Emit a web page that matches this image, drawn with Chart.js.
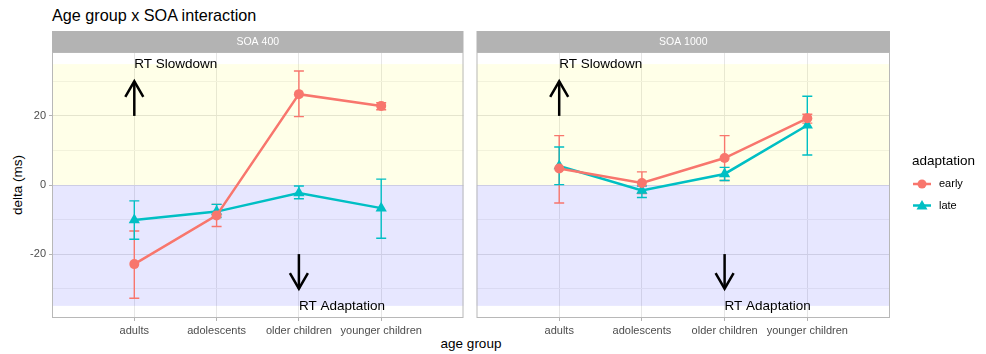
<!DOCTYPE html>
<html><head><meta charset="utf-8">
<script src="https://cdn.jsdelivr.net/npm/chart.js@4"></script>
<style>
body{margin:0;background:#fff;width:986px;height:354px;position:relative;overflow:hidden;font-family:"Liberation Sans",Arial,sans-serif;}
canvas{position:absolute;top:0;}
.t{position:absolute;white-space:nowrap;color:#000;line-height:1;}
</style></head><body>
<div class="t" style="left:52px;top:7px;font-size:16.2px;">Age group x SOA interaction</div>
<div class="t" style="left:471px;top:337px;font-size:13.5px;transform:translateX(-50%)">age group</div>
<div class="t" style="left:18px;top:185px;font-size:13.5px;transform:translate(-50%,-50%) rotate(-90deg)">delta (ms)</div>
<canvas id="c1" width="470" height="354" style="left:0;width:470px;height:354px"></canvas>
<canvas id="c2" width="516" height="354" style="left:470px;width:516px;height:354px"></canvas>
<script>
// ---- data ----
const ageGroups = ['adults', 'adolescents', 'older children', 'younger children'];
const panelNames = ['SOA 400', 'SOA 1000'];
const seriesNames = ['early', 'late'];
const legendTitle = 'adaptation';

const soa400Early   = [-22.9, -8.8, 26.3, 22.9];
const soa400EarlyLo = [-32.8, -12.0, 19.8, 21.8];
const soa400EarlyHi = [-13.3, -5.6, 33.0, 23.8];
const soa400Late    = [-10.1, -7.7, -2.3, -6.7];
const soa400LateLo  = [-15.7, -9.4, -4.0, -15.4];
const soa400LateHi  = [-4.6, -5.6, -0.3, 1.7];

const soa1000Early   = [4.8, 0.6, 7.8, 19.3];
const soa1000EarlyLo = [-5.2, -2.5, 1.3, 17.9];
const soa1000EarlyHi = [14.3, 3.8, 14.3, 20.5];
const soa1000Late    = [5.5, -1.6, 3.2, 17.3];
const soa1000LateLo  = [0.1, -3.6, 1.3, 8.7];
const soa1000LateHi  = [11.0, -0.3, 5.1, 25.7];

const yMajor = [-20, 0, 20];
const yMinor = [-30, -10, 10, 30];
const bandTop = 35, bandBottom = -35;
const slowdownLabel = 'RT Slowdown';
const adaptationLabel = 'RT Adaptation';
// annotation anchors in data units: [x category index (1-based), y]
const slowdownText = [1, 35], slowdownArrow = [1, 20, 30];
const adaptText = [3, -35], adaptArrow = [3, -20, -30];

const COL_EARLY = '#F8766D', COL_LATE = '#00BFC4';
const FONT = '"Liberation Sans", Arial, sans-serif';

function drawArrow(ctx, x, y0, y1) {
  ctx.save();
  ctx.strokeStyle = '#000'; ctx.lineWidth = 2.5; ctx.lineCap = 'butt';
  ctx.beginPath(); ctx.moveTo(x, y0); ctx.lineTo(x, y1); ctx.stroke();
  const dir = y1 < y0 ? 1 : -1;
  ctx.beginPath();
  ctx.moveTo(x - 9, y1 + dir * 15.5); ctx.lineTo(x, y1); ctx.lineTo(x + 9, y1 + dir * 15.5);
  ctx.stroke();
  ctx.restore();
}

const panelPlugin = {
  id: 'panelPlugin',
  beforeDatasetsDraw(chart) {
    const {ctx, chartArea: a, scales: {x, y}} = chart;
    ctx.save();
    ctx.fillStyle = 'rgba(255,255,0,0.09)';
    ctx.fillRect(a.left, y.getPixelForValue(bandTop), a.right - a.left, y.getPixelForValue(0) - y.getPixelForValue(bandTop));
    ctx.fillStyle = 'rgba(0,0,255,0.095)';
    ctx.fillRect(a.left, y.getPixelForValue(0), a.right - a.left, y.getPixelForValue(bandBottom) - y.getPixelForValue(0));
    // error bars
    chart.data.datasets.forEach(ds => {
      ctx.strokeStyle = ds.borderColor; ctx.lineWidth = 1.4;
      ds.errLo.forEach((lo, i) => {
        const px = x.getPixelForValue(i + 1);
        const pl = y.getPixelForValue(lo), ph = y.getPixelForValue(ds.errHi[i]);
        ctx.beginPath();
        ctx.moveTo(px, pl); ctx.lineTo(px, ph);
        ctx.moveTo(px - 5, pl); ctx.lineTo(px + 5, pl);
        ctx.moveTo(px - 5, ph); ctx.lineTo(px + 5, ph);
        ctx.stroke();
      });
    });
    ctx.restore();
  },
  afterDraw(chart) {
    const {ctx, chartArea: a, scales: {x, y}} = chart;
    const o = chart.options.plugins.panelPlugin;
    ctx.save();
    // annotations
    drawArrow(ctx, x.getPixelForValue(slowdownArrow[0]), y.getPixelForValue(slowdownArrow[1]), y.getPixelForValue(slowdownArrow[2]));
    drawArrow(ctx, x.getPixelForValue(adaptArrow[0]), y.getPixelForValue(adaptArrow[1]), y.getPixelForValue(adaptArrow[2]));
    ctx.fillStyle = '#000'; ctx.font = '13.5px ' + FONT; ctx.textBaseline = 'middle'; ctx.textAlign = 'left';
    ctx.fillText(slowdownLabel, x.getPixelForValue(slowdownText[0]), y.getPixelForValue(slowdownText[1]));
    ctx.fillText(adaptationLabel, x.getPixelForValue(adaptText[0]), y.getPixelForValue(adaptText[1]));
    // border
    ctx.strokeStyle = '#B8B8B8'; ctx.lineWidth = 1;
    ctx.strokeRect(a.left + 0.5, a.top + 0.5, a.right - a.left - 1, a.bottom - a.top - 1);
    // strip
    ctx.fillStyle = '#B3B3B3';
    ctx.fillRect(a.left, 31, a.right - a.left, a.top - 31);
    ctx.fillStyle = '#fff'; ctx.font = '10.5px ' + FONT; ctx.textAlign = 'center';
    ctx.fillText(o.name, (a.left + a.right) / 2, (31 + a.top) / 2 + 0.5);
    // legend
    if (o.legend) {
      const lx = a.right + 22;
      ctx.fillStyle = '#000'; ctx.textAlign = 'left'; ctx.font = '13.5px ' + FONT;
      ctx.fillText(legendTitle, lx, 161);
      chart.data.datasets.forEach((ds, i) => {
        const yy = 184 + i * 21.5, cx = lx + 10;
        ctx.strokeStyle = ds.borderColor; ctx.fillStyle = ds.borderColor; ctx.lineWidth = 2.5;
        ctx.beginPath(); ctx.moveTo(lx + 1, yy); ctx.lineTo(lx + 19, yy); ctx.stroke();
        ctx.beginPath();
        if (ds.pointStyle === 'circle') ctx.arc(cx, yy, 4.5, 0, Math.PI * 2);
        else { ctx.moveTo(cx, yy - 5.5); ctx.lineTo(cx + 5.5, yy + 4); ctx.lineTo(cx - 5.5, yy + 4); ctx.closePath(); }
        ctx.fill();
        ctx.fillStyle = '#000'; ctx.font = '11px ' + FONT;
        ctx.fillText(ds.label, lx + 27, yy);
      });
    }
    ctx.restore();
  }
};

function makePanel(id, name, early, eLo, eHi, late, lLo, lHi, first, legend) {
  const mk = (vals) => vals.map((v, i) => ({x: i + 1, y: v}));
  new Chart(document.getElementById(id), {
    type: 'line',
    data: {
      datasets: [
        {label: seriesNames[0], data: mk(early), errLo: eLo, errHi: eHi, borderColor: COL_EARLY, backgroundColor: COL_EARLY,
         borderWidth: 2.5, pointStyle: 'circle', pointRadius: 5, pointBorderWidth: 0, tension: 0},
        {label: seriesNames[1], data: mk(late), errLo: lLo, errHi: lHi, borderColor: COL_LATE, backgroundColor: COL_LATE,
         borderWidth: 2.5, pointStyle: 'triangle', pointRadius: 6.5, pointBorderWidth: 0, tension: 0}
      ]
    },
    options: {
      responsive: false, animation: false, devicePixelRatio: 1,
      layout: {padding: {top: 52, left: 0, right: first ? 2 : 96, bottom: 0}},
      plugins: {legend: {display: false}, tooltip: {enabled: false}, panelPlugin: {name, legend}},
      scales: {
        x: {
          type: 'linear', min: 0, max: 5,
          afterBuildTicks: s => { s.ticks = ageGroups.map((g, i) => ({value: i + 1})); },
          afterFit: s => { s.height = 36; },
          border: {display: false},
          grid: {color: '#E6E6E6', lineWidth: 1, tickLength: 3, tickColor: '#B3B3B3'},
          ticks: {autoSkip: false, maxRotation: 0, padding: 3.5, color: '#4D4D4D', font: {size: 11, family: FONT},
                  callback: v => ageGroups[v - 1]}
        },
        y: {
          type: 'linear', min: -38.5, max: 38.5,
          afterBuildTicks: s => { s.ticks = yMinor.concat(yMajor).sort((p, q) => p - q).map(v => ({value: v})); },
          afterFit: s => { s.width = first ? 52 : 5; },
          border: {display: false},
          grid: {
            color: c => yMajor.includes(c.tick.value) ? '#E3E3E3' : '#F1F1F1',
            lineWidth: 1, drawTicks: first, tickLength: 3,
            tickColor: c => yMajor.includes(c.tick.value) ? '#B3B3B3' : 'rgba(0,0,0,0)'
          },
          ticks: {display: first, padding: 3, color: '#4D4D4D', font: {size: 11, family: FONT},
                  callback: v => yMajor.includes(v) ? String(v) : ''}
        }
      }
    },
    plugins: [panelPlugin]
  });
}

makePanel('c1', panelNames[0], soa400Early, soa400EarlyLo, soa400EarlyHi, soa400Late, soa400LateLo, soa400LateHi, true, false);
makePanel('c2', panelNames[1], soa1000Early, soa1000EarlyLo, soa1000EarlyHi, soa1000Late, soa1000LateLo, soa1000LateHi, false, true);
</script>
</body></html>
